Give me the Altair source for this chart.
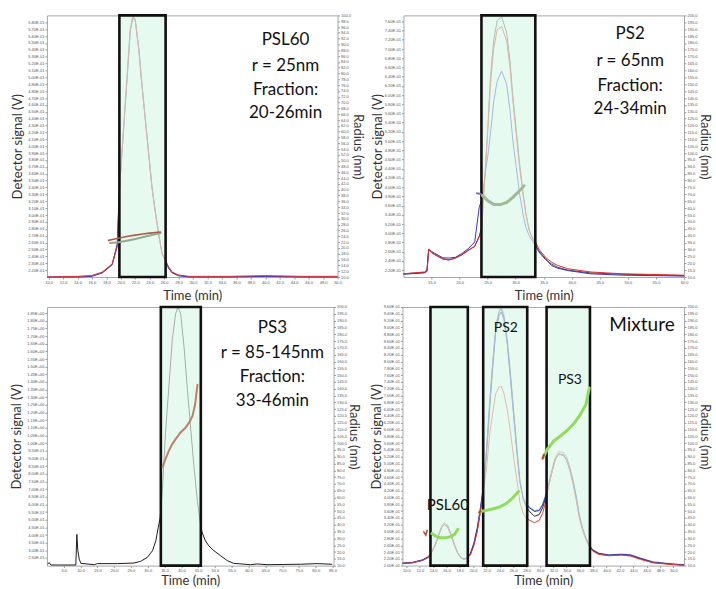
import altair as alt
import pandas as pd

FONT = "Lato"

# ---------------- PSL60 panel ----------------
psl_t = [9.8, 14.0, 16.0, 17.4, 18.8, 19.5, 19.7, 19.9, 20.4, 20.9,
         21.3, 21.65, 22.0, 22.5, 22.9, 23.4, 23.9, 24.3, 24.8, 25.3,
         25.7, 26.2, 26.6, 27.1, 28.0, 29.4, 35.0, 40.0, 45.0, 50.0]
psl_red = [0.210, 0.211, 0.212, 0.217, 0.229, 0.254, 0.302, 0.350, 0.428, 0.505,
           0.568, 0.588, 0.583, 0.539, 0.491, 0.437, 0.384, 0.341, 0.302, 0.268,
           0.244, 0.234, 0.225, 0.217, 0.213, 0.211, 0.211, 0.212, 0.211, 0.211]
psl_blue = [0.210, 0.210, 0.211, 0.216, 0.228, 0.258, 0.312, 0.352, 0.426, 0.503,
            0.566, 0.587, 0.582, 0.540, 0.492, 0.438, 0.385, 0.342, 0.303, 0.269,
            0.245, 0.233, 0.223, 0.216, 0.212, 0.210, 0.210, 0.211, 0.210, 0.210]
psl_gray = [0.210, 0.210, 0.212, 0.216, 0.228, 0.255, 0.305, 0.352, 0.430, 0.508,
            0.570, 0.589, 0.584, 0.541, 0.493, 0.438, 0.385, 0.342, 0.302, 0.268,
            0.244, 0.233, 0.224, 0.217, 0.212, 0.210, 0.210, 0.211, 0.210, 0.210]
psl_rad_red_t = [18.3, 19.0, 20.0, 21.0, 22.0, 23.0, 24.0, 25.5]
psl_rad_red = [22.6, 23.0, 23.5, 24.0, 24.4, 24.8, 25.1, 25.5]
psl_rad_grn_t = [18.5, 19.7, 21.0, 22.0, 23.0, 24.0, 25.5]
psl_rad_grn = [21.7, 22.0, 22.6, 23.1, 23.7, 24.3, 25.1]
psl_box = [19.8, 26.2]
psl_notes = ["PSL60", "r = 25nm", "Fraction:", "20-26min"]
psl_note_t = [42.8, 42.8, 42.8, 42.8]
psl_note_s = [0.554, 0.517, 0.481, 0.448]
psl_xdom = [9.77, 50.0]
psl_xticks = [10.0, 12.0, 14.0, 16.0, 18.0, 20.0, 22.0, 24.0, 26.0, 28.0, 30.0,
              32.0, 34.0, 36.0, 38.0, 40.0, 42.0, 44.0, 46.0, 48.0, 50.0]
psl_ydom = [0.21, 0.59]
psl_yticks = [round(0.22 + 0.01 * i, 2) for i in range(37)]
psl_rdom = [10.0, 100.0]
psl_rticks = [10.0 + 2 * i for i in range(46)]

# ---------------- PS2 panel ----------------
ps2_t = [10.0, 13.8, 14.2, 14.5, 15.0, 15.5, 17.0, 18.1, 19.3, 20.4,
         21.5, 22.7, 23.5, 23.9, 24.4, 25.0, 25.5, 26.1, 26.7, 27.5,
         28.4, 29.0, 29.5, 30.1, 30.7, 31.3, 31.8, 32.4, 33.0, 33.5,
         34.1, 35.3, 36.4, 37.5, 39.3, 43.3, 49.0, 60.0]
ps2_red = [0.212, 0.216, 0.218, 0.266, 0.259, 0.255, 0.245, 0.242, 0.247, 0.254,
           0.263, 0.271, 0.292, 0.306, 0.400, 0.515, 0.623, 0.702, 0.742, 0.749,
           0.717, 0.659, 0.587, 0.515, 0.443, 0.385, 0.342, 0.306, 0.290, 0.283,
           0.266, 0.248, 0.237, 0.230, 0.223, 0.216, 0.212, 0.209]
ps2_dark = [0.212, 0.215, 0.217, 0.264, 0.258, 0.254, 0.244, 0.242, 0.246, 0.253,
            0.262, 0.272, 0.294, 0.310, 0.405, 0.520, 0.640, 0.720, 0.762, 0.770,
            0.735, 0.672, 0.598, 0.525, 0.452, 0.390, 0.345, 0.308, 0.288, 0.278,
            0.260, 0.243, 0.233, 0.226, 0.220, 0.214, 0.211, 0.208]
ps2_blue = [0.211, 0.214, 0.222, 0.264, 0.261, 0.257, 0.247, 0.246, 0.248, 0.256,
            0.266, 0.281, 0.356, 0.371, 0.414, 0.465, 0.515, 0.587, 0.630, 0.652,
            0.623, 0.566, 0.501, 0.443, 0.385, 0.342, 0.313, 0.295, 0.283, 0.273,
            0.262, 0.245, 0.230, 0.224, 0.219, 0.212, 0.209, 0.207]
ps2_rad_pur_t = [23.1, 23.8]
ps2_rad_pur = [70.8, 70.3]
ps2_rad_grn_t = [24.1, 25.0, 26.1, 27.3, 28.4, 29.5, 30.7, 31.5]
ps2_rad_grn = [69.1, 65.5, 62.6, 62.6, 64.2, 67.9, 72.7, 76.3]
ps2_box = [23.9, 33.5]
ps2_notes = ["PS2", "r = 65nm", "Fraction:", "24-34min"]
ps2_note_t = [50.4, 50.4, 50.4, 50.4]
ps2_note_s = [0.732, 0.674, 0.620, 0.570]
ps2_xdom = [10.0, 60.0]
ps2_xticks = [15.0, 20.0, 25.0, 30.0, 35.0, 40.0, 45.0, 50.0, 55.0, 60.0]
ps2_ydom = [0.205, 0.773]
ps2_yticks = [round(0.22 + 0.02 * i, 2) for i in range(28)]
ps2_rdom = [10.0, 200.0]
ps2_rticks = [10.0 + 5 * i for i in range(39)]

# ---------------- PS3 panel ----------------
ps3_t = [0.2, 0.7, 1.2, 8.6, 8.9, 9.2, 9.6, 10.1, 14.1, 15.0,
         21.0, 25.9, 27.9, 29.9, 31.4, 32.4, 33.1, 33.7, 34.4, 35.3,
         36.3, 37.3, 38.3, 39.0, 39.8, 40.8, 41.8, 42.8, 43.8, 44.8,
         45.7, 46.2, 47.2, 48.2, 49.7, 51.7, 53.7, 55.6, 60.6, 62.6,
         65.5, 75.4, 80.4, 84.9]
ps3_s = [0.211, 0.219, 0.204, 0.204, 0.404, 0.297, 0.243, 0.215, 0.206, 0.213,
         0.213, 0.217, 0.228, 0.254, 0.297, 0.361, 0.447, 0.512, 0.705, 1.071,
         1.372, 1.673, 1.846, 1.889, 1.846, 1.630, 1.351, 1.093, 0.835, 0.619,
         0.469, 0.415, 0.361, 0.329, 0.297, 0.265, 0.232, 0.215, 0.206, 0.211,
         0.206, 0.209, 0.213, 0.209]
ps3_rad_t = [34.4, 35.3, 36.3, 37.3, 38.3, 39.8, 41.3, 42.3, 43.3, 44.1, 44.8]
ps3_rad = [82.4, 88.5, 94.5, 99.3, 102.9, 107.8, 111.4, 115.0, 119.8, 128.3, 142.8]
ps3_box = [33.9, 45.8]
ps3_notes = ["PS3", "r = 85-145nm", "Fraction:", "33-46min"]
ps3_note_t = [67.1, 67.1, 67.1, 67.1]
ps3_note_s = [1.751, 1.590, 1.435, 1.274]
ps3_xdom = [0.0, 85.3]
ps3_xticks = [5.0 * i for i in range(1, 18)]
ps3_ydom = [0.2, 1.89]
ps3_yticks = [round(0.25 + 0.05 * i, 2) for i in range(33)]
ps3_rdom = [10.0, 200.0]
ps3_rticks = [10.0 + 5 * i for i in range(39)]

# ---------------- Mixture panel ----------------
mix_t = [9.4, 10.9, 12.4, 13.3, 13.8, 14.3, 14.8, 15.3, 15.7, 16.2,
         16.7, 17.2, 17.7, 18.2, 18.6, 19.1, 19.6, 20.1, 20.6, 21.0,
         21.5, 22.0, 22.5, 23.0, 23.4, 23.9, 24.2, 24.6, 25.1, 25.6,
         26.1, 26.6, 27.0, 27.5, 28.0, 28.5, 29.2, 29.9, 30.4, 30.9,
         31.4, 31.9, 32.3, 32.8, 33.5, 34.0, 34.5, 35.0, 35.5, 35.9,
         36.4, 36.9, 37.4, 37.9, 38.8, 40.3, 42.2, 43.6, 45.1, 47.0,
         49.9, 51.6]
mix_blue = [0.207, 0.209, 0.217, 0.226, 0.241, 0.260, 0.289, 0.314, 0.321, 0.314,
            0.289, 0.260, 0.236, 0.223, 0.219, 0.223, 0.236, 0.265, 0.309, 0.357,
            0.426, 0.542, 0.688, 0.814, 0.902, 0.946, 0.955, 0.931, 0.853, 0.746,
            0.630, 0.523, 0.445, 0.396, 0.377, 0.369, 0.359, 0.362, 0.377, 0.406,
            0.445, 0.484, 0.513, 0.528, 0.525, 0.513, 0.484, 0.445, 0.396, 0.348,
            0.309, 0.280, 0.260, 0.246, 0.236, 0.231, 0.233, 0.231, 0.221, 0.210,
            0.204, 0.202]
mix_red = [0.206, 0.208, 0.215, 0.224, 0.239, 0.258, 0.287, 0.313, 0.320, 0.313,
           0.288, 0.259, 0.235, 0.222, 0.218, 0.221, 0.232, 0.258, 0.298, 0.347,
           0.416, 0.484, 0.591, 0.659, 0.707, 0.725, 0.727, 0.707, 0.659, 0.591,
           0.513, 0.445, 0.387, 0.353, 0.338, 0.333, 0.326, 0.333, 0.353, 0.391,
           0.440, 0.482, 0.512, 0.527, 0.524, 0.510, 0.478, 0.436, 0.386, 0.340,
           0.303, 0.276, 0.256, 0.243, 0.233, 0.229, 0.231, 0.228, 0.218, 0.208,
           0.203, 0.201]
mix_black = [0.207, 0.209, 0.216, 0.225, 0.240, 0.259, 0.288, 0.313, 0.320, 0.313,
             0.289, 0.260, 0.236, 0.223, 0.219, 0.222, 0.234, 0.262, 0.303, 0.350,
             0.418, 0.530, 0.670, 0.800, 0.890, 0.935, 0.945, 0.925, 0.855, 0.755,
             0.640, 0.530, 0.450, 0.395, 0.370, 0.358, 0.345, 0.350, 0.370, 0.402,
             0.442, 0.483, 0.512, 0.528, 0.526, 0.512, 0.482, 0.442, 0.392, 0.344,
             0.306, 0.278, 0.258, 0.245, 0.235, 0.230, 0.232, 0.230, 0.220, 0.209,
             0.204, 0.202]
mix_gray = [0.207, 0.209, 0.216, 0.226, 0.241, 0.261, 0.291, 0.318, 0.326, 0.318,
            0.292, 0.262, 0.237, 0.224, 0.220, 0.224, 0.237, 0.266, 0.310, 0.358,
            0.427, 0.535, 0.680, 0.812, 0.905, 0.950, 0.958, 0.940, 0.870, 0.765,
            0.650, 0.535, 0.452, 0.400, 0.380, 0.371, 0.361, 0.364, 0.380, 0.410,
            0.450, 0.490, 0.518, 0.535, 0.533, 0.520, 0.490, 0.450, 0.400, 0.350,
            0.310, 0.281, 0.261, 0.247, 0.237, 0.232, 0.234, 0.232, 0.222, 0.211,
            0.205, 0.203]
mix_rad_red1_t = [12.6, 12.9, 13.1]
mix_rad_red1 = [34.8, 32.4, 36.0]
mix_rad_red2_t = [20.9, 21.1]
mix_rad_red2 = [49.0, 50.0]
mix_rad_red3_t = [30.4, 30.6]
mix_rad_red3 = [88.5, 91.5]
mix_rad_g1_t = [13.8, 14.3, 15.0, 15.7, 16.5, 17.2, 17.7]
mix_rad_g1 = [33.6, 31.9, 30.4, 30.4, 31.1, 32.8, 36.7]
mix_rad_g2_t = [21.0, 21.3, 22.0, 23.0, 23.9, 24.9, 25.8, 26.8]
mix_rad_g2 = [49.4, 49.9, 50.6, 51.8, 53.0, 55.4, 59.1, 64.4]
mix_rad_g3_t = [30.5, 31.1, 32.1, 33.1, 34.0, 35.0, 35.9, 36.9, 37.4]
mix_rad_g3 = [89.5, 95.5, 101.6, 105.3, 108.9, 113.8, 119.8, 128.3, 140.5]
mix_box_start = [13.6, 21.5, 31.0]
mix_box_end = [19.2, 28.1, 37.5]
mix_title = ["Mixture"]
mix_title_t = [45.3]
mix_title_s = [0.907]
mix_labels = ["PS2", "PS3"]
mix_labels_t = [24.9, 34.5]
mix_labels_s = [0.897, 0.746]
mix_psl = ["PSL60"]
mix_psl_t = [16.2]
mix_psl_s = [0.379]
mix_xdom = [9.4, 51.6]
mix_xticks = [10.0 + 2 * i for i in range(21)]
mix_ydom = [0.2, 0.96]
mix_yticks = [round(0.20 + 0.02 * i, 2) for i in range(39)]
mix_rdom = [10.0, 200.0]
mix_rticks = [10.0 + 5 * i for i in range(39)]

SIG_LABEL = ("datum.value >= 0.9999 ? format(datum.value, '.2f') + 'E+00' "
             ": format(datum.value * 10, '.2f') + 'E-01'")


def make_panel(series, radius, box_start, box_end, notes, xdom, xticks, ydom,
               yticks, rdom, rticks, w, h, left_ext, left_pad, xt_pad):
    xax = alt.Axis(title="Time (min)", values=xticks, format=".1f",
                   labelFontSize=4, labelOverlap=False, labelFlush=False,
                   tickSize=2, labelPadding=1, titlePadding=xt_pad,
                   domain=False, grid=False)
    x = alt.X("t:Q", scale=alt.Scale(domain=xdom, nice=False, zero=False), axis=xax)
    yax = alt.Axis(title="Detector signal (V)", values=yticks, labelExpr=SIG_LABEL,
                   labelFontSize=4, labelOverlap=False, labelFlush=False,
                   tickSize=2, labelPadding=1, minExtent=left_ext,
                   maxExtent=left_ext, titlePadding=left_pad, orient="left",
                   domain=False, grid=False)
    y = alt.Y("s:Q", scale=alt.Scale(domain=ydom, nice=False, zero=False), axis=yax)
    rax = alt.Axis(title="Radius (nm)", values=rticks, format=".1f",
                   labelFontSize=4, labelOverlap=False, labelFlush=False,
                   tickSize=2, labelPadding=1, minExtent=11, maxExtent=11,
                   titlePadding=2, orient="right", domain=False, grid=False)
    r = alt.Y("r:Q", scale=alt.Scale(domain=rdom, nice=False, zero=False), axis=rax)

    left_layers = []
    for t, s, color, sw in series:
        df = pd.DataFrame({"t": t, "s": s})
        left_layers.append(alt.Chart(df).mark_line(color=color, strokeWidth=sw)
                           .encode(x=x, y=y))
    bdf = pd.DataFrame({"t": box_start, "t2": box_end,
                        "s": [ydom[0]] * len(box_start),
                        "s2": [ydom[1]] * len(box_start)})
    left_layers.append(alt.Chart(bdf).mark_rect(fill="#dcf7e7", fillOpacity=0.68,
                                                stroke="#111", strokeWidth=2.6)
                       .encode(x=x, x2="t2:Q", y=y, y2="s2:Q"))
    for labels, nt, ns, size in notes:
        ndf = pd.DataFrame({"t": nt, "s": ns, "label": labels})
        left_layers.append(alt.Chart(ndf).mark_text(font=FONT, fontSize=size,
                                                    color="#111", align="center",
                                                    baseline="middle")
                           .encode(x=x, y=y, text="label:N"))
    left = alt.layer(*left_layers)

    right_layers = []
    for t, rv, color, sw in radius:
        df = pd.DataFrame({"t": t, "r": rv})
        right_layers.append(alt.Chart(df).mark_line(color=color, strokeWidth=sw,
                                                    strokeCap="round")
                            .encode(x=x, y=r))
    right = alt.layer(*right_layers)
    return alt.layer(left, right).resolve_scale(y="independent").properties(
        width=w, height=h)


p1 = make_panel(
    series=[(psl_t, psl_gray, "#8fa3a3", 1.2), (psl_t, psl_blue, "#3434c4", 1.0),
            (psl_t, psl_red, "#d93030", 1.0)],
    radius=[(psl_rad_grn_t, psl_rad_grn, "#8faa8f", 2.0),
            (psl_rad_red_t, psl_rad_red, "#b0584a", 1.6)],
    box_start=[psl_box[0]], box_end=[psl_box[1]],
    notes=[(psl_notes, psl_note_t, psl_note_s, 17)],
    xdom=psl_xdom, xticks=psl_xticks, ydom=psl_ydom, yticks=psl_yticks,
    rdom=psl_rdom, rticks=psl_rticks, w=291, h=262, left_ext=17, left_pad=5,
    xt_pad=6)

p2 = make_panel(
    series=[(ps2_t, ps2_dark, "#4a4a4a", 1.0), (ps2_t, ps2_blue, "#3434cc", 1.0),
            (ps2_t, ps2_red, "#e02828", 1.0)],
    radius=[(ps2_rad_pur_t, ps2_rad_pur, "#8a6cb4", 2.0),
            (ps2_rad_grn_t, ps2_rad_grn, "#9fbb95", 3.0)],
    box_start=[ps2_box[0]], box_end=[ps2_box[1]],
    notes=[(ps2_notes, ps2_note_t, ps2_note_s, 17)],
    xdom=ps2_xdom, xticks=ps2_xticks, ydom=ps2_ydom, yticks=ps2_yticks,
    rdom=ps2_rdom, rticks=ps2_rticks, w=281, h=262, left_ext=15, left_pad=4,
    xt_pad=6)

p3 = make_panel(
    series=[(ps3_t, ps3_s, "#1e1e1e", 1.0)],
    radius=[(ps3_rad_t, ps3_rad, "#c08068", 2.0)],
    box_start=[ps3_box[0]], box_end=[ps3_box[1]],
    notes=[(ps3_notes, ps3_note_t, ps3_note_s, 17)],
    xdom=ps3_xdom, xticks=ps3_xticks, ydom=ps3_ydom, yticks=ps3_yticks,
    rdom=ps3_rdom, rticks=ps3_rticks, w=287, h=259, left_ext=19, left_pad=4,
    xt_pad=2)

p4 = make_panel(
    series=[(mix_t, mix_gray, "#9fb49f", 1.2), (mix_t, mix_black, "#2a2a2a", 1.0),
            (mix_t, mix_blue, "#3535c8", 1.0), (mix_t, mix_red, "#e23a3a", 1.0)],
    radius=[(mix_rad_g1_t, mix_rad_g1, "#8edc5a", 3.0),
            (mix_rad_g2_t, mix_rad_g2, "#8edc5a", 3.0),
            (mix_rad_g3_t, mix_rad_g3, "#8edc5a", 3.0),
            (mix_rad_red1_t, mix_rad_red1, "#b04a3a", 1.5),
            (mix_rad_red2_t, mix_rad_red2, "#b04a3a", 2.0),
            (mix_rad_red3_t, mix_rad_red3, "#b04a3a", 2.0)],
    box_start=mix_box_start, box_end=mix_box_end,
    notes=[(mix_title, mix_title_t, mix_title_s, 19),
           (mix_labels, mix_labels_t, mix_labels_s, 14),
           (mix_psl, mix_psl_t, mix_psl_s, 15)],
    xdom=mix_xdom, xticks=mix_xticks, ydom=mix_ydom, yticks=mix_yticks,
    rdom=mix_rdom, rticks=mix_rticks, w=282, h=259, left_ext=15, left_pad=4,
    xt_pad=2)

row1 = alt.hconcat(p1, p2, spacing=6)
row2 = alt.hconcat(p3, p4, spacing=9)

chart = alt.vconcat(row1, row2, spacing=0).properties(
    padding={"left": 10, "top": 12, "right": 5, "bottom": 0},
    background="white",
).configure_view(
    stroke="#a8a8a8", strokeWidth=1
).configure_axis(
    labelFont="Liberation Sans", labelColor="#555", tickColor="#999",
    titleFont=FONT, titleFontSize=13, titleFontWeight="normal", titleColor="#333"
)

chart.save("out.html", embed_options={"renderer": "svg", "actions": False})
